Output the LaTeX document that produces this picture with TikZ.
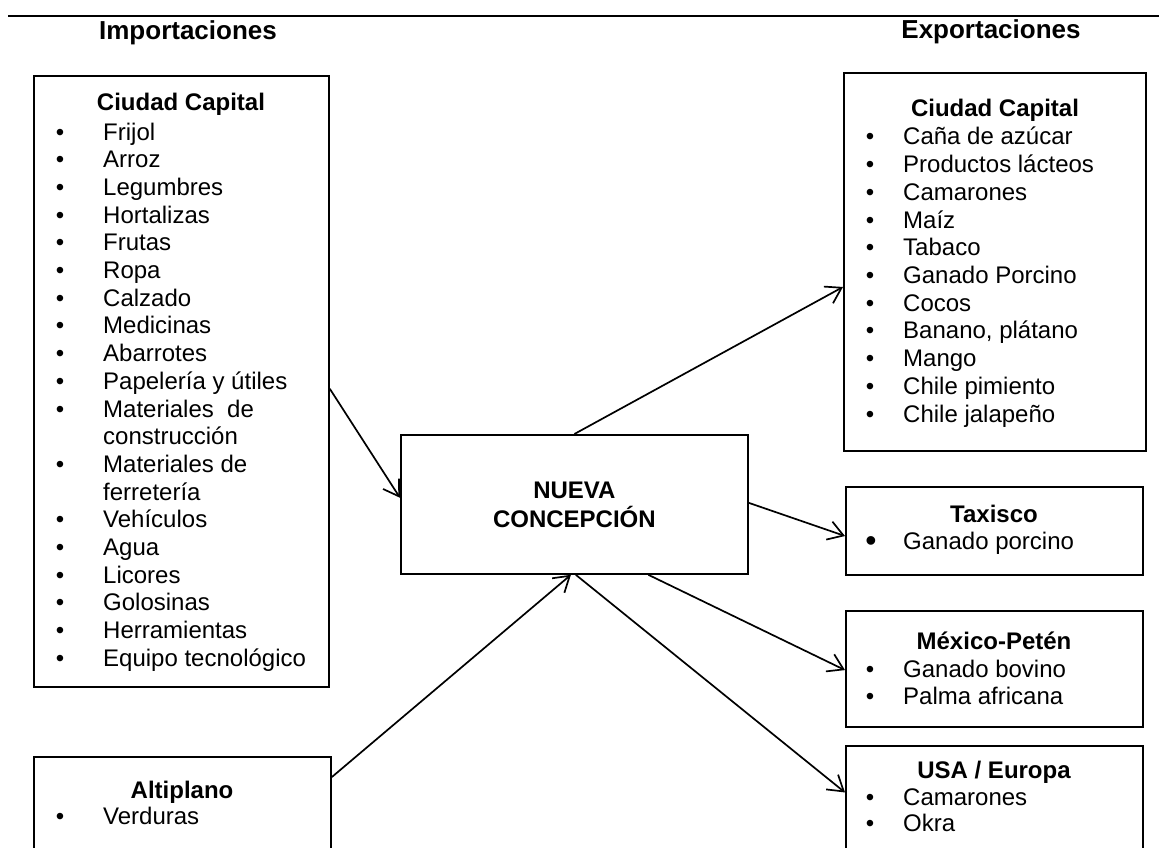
\documentclass[tikz,border=0pt]{standalone}
\usepackage{fontspec}
\setmainfont{Liberation Sans}
\usetikzlibrary{arrows.meta,calc}

\tikzset{
  caja/.style={draw,line width=1.8pt,inner sep=0pt,anchor=north west},
  flecha/.style={line width=1.7pt,-{Straight Barb[length=15pt,width=19pt,line width=1.7pt]}},
  titulo/.style={font=\fontsize{24}{28}\selectfont\bfseries,anchor=base,inner sep=0pt},
  encabezado/.style={font=\fontsize{26}{30}\selectfont\bfseries,anchor=base,inner sep=0pt},
  elem/.style={font=\fontsize{24}{28}\selectfont,anchor=base west,inner sep=0pt},
  bala/.style={font=\fontsize{24}{28}\selectfont,anchor=base,inner sep=0pt},
}

\begin{document}
\begin{tikzpicture}[x=1pt,y=-1pt]
\useasboundingbox (0,0) rectangle (1159,848);
\clip (0,0) rectangle (1159,848);

% encabezados
\draw [line width=1.8pt] (8,16) -- (1159,16);
\node[encabezado] (imp) at (188,40) {Importaciones};
\node[encabezado] (exp) at (991,39) {Exportaciones};

% cajas
\node[caja,minimum width=295pt,minimum height=611pt] (impcap) at (33,75) {};
\node[caja,minimum width=297pt,minimum height=130pt] (altip) at (33,756) {};
\node[caja,minimum width=347pt,minimum height=139pt] (nueva) at (400,434) {};
\node[caja,minimum width=302pt,minimum height=378pt] (expcap) at (843,72) {};
\node[caja,minimum width=297pt,minimum height=88pt] (taxis) at (845,486) {};
\node[caja,minimum width=297pt,minimum height=116pt] (mexpet) at (845,610) {};
\node[caja,minimum width=297pt,minimum height=130pt] (usaeur) at (845,745) {};

\node[titulo,align=center,anchor=center,font=\fontsize{24}{29}\selectfont\bfseries] (nuevatxt) at (nueva.center) {NUEVA\\CONCEPCIÓN};

% importaciones
\node[titulo] (impcaptit) at (181,111) {Ciudad Capital};
\foreach \bu/\txt [count=\i from 0] in {1/Frijol,1/Arroz,1/Legumbres,1/Hortalizas,1/Frutas,1/Ropa,1/Calzado,1/Medicinas,1/Abarrotes,1/Papelería y útiles,1/Materiales\ \ de,0/construcción,1/Materiales de,0/ferretería,1/Vehículos,1/Agua,1/Licores,1/Golosinas,1/Herramientas,1/Equipo tecnológico}
{
  \node[elem] (imp\i) at (103,{140+27.7*\i}) {\txt};
  \ifnum\bu=1 \node[bala] at (60,{140+27.7*\i}) {\textbullet}; \fi
}

\node[titulo] (altiptit) at (182,798) {Altiplano};
\node[bala] at (60,824) {\textbullet};
\node[elem] (altip1) at (103,824) {Verduras};

% exportaciones
\node[titulo] (expcaptit) at (995,117) {Ciudad Capital};
\foreach \txt [count=\i from 0] in {Caña de azúcar,Productos lácteos,Camarones,Maíz,Tabaco,Ganado Porcino,Cocos,{Banano, plátano},Mango,Chile pimiento,Chile jalapeño}
{
  \node[elem] (exp\i) at (903,{145+27.7*\i}) {\txt};
  \node[bala] at (870,{145+27.7*\i}) {\textbullet};
}

\node[titulo] (taxistit) at (994,522) {Taxisco};
\node[bala,font=\fontsize{32}{32}\selectfont] at (871,551) {\textbullet};
\node[elem] (taxis1) at (903,549) {Ganado porcino};

\node[titulo] (mexpettit) at (994,649) {México-Petén};
\foreach \txt [count=\i from 0] in {Ganado bovino,Palma africana}
{
  \node[elem] (mexpet\i) at (903,{677+27*\i}) {\txt};
  \node[bala] at (870,{677+27*\i}) {\textbullet};
}

\node[titulo] (usaeurtit) at (994,778) {USA / Europa};
\foreach \txt [count=\i from 0] in {Camarones,Okra}
{
  \node[elem] (usaeur\i) at (903,{805+26*\i}) {\txt};
  \node[bala] at (870,{805+26*\i}) {\textbullet};
}

% flechas
\draw[flecha] ($(impcap.north east)!0.512!(impcap.south east)$) -- ($(nueva.north west)!0.453!(nueva.south west)$);
\draw[flecha] ($(altip.north east)!0.16!(altip.south east)$) -- ($(nueva.south west)!0.49!(nueva.south east)$);
\draw[flecha] (nueva.north) -- ($(expcap.north west)!0.566!(expcap.south west)$);
\draw[flecha] ($(nueva.north east)!0.489!(nueva.south east)$) -- ($(taxis.north west)!0.557!(taxis.south west)$);
\draw[flecha] ($(nueva.south west)!0.712!(nueva.south east)$) -- ($(mexpet.north west)!0.51!(mexpet.south west)$);
\draw[flecha] ($(nueva.south west)!0.504!(nueva.south east)$) -- ($(usaeur.north west)!0.36!(usaeur.south west)$);
\end{tikzpicture}
\end{document}
